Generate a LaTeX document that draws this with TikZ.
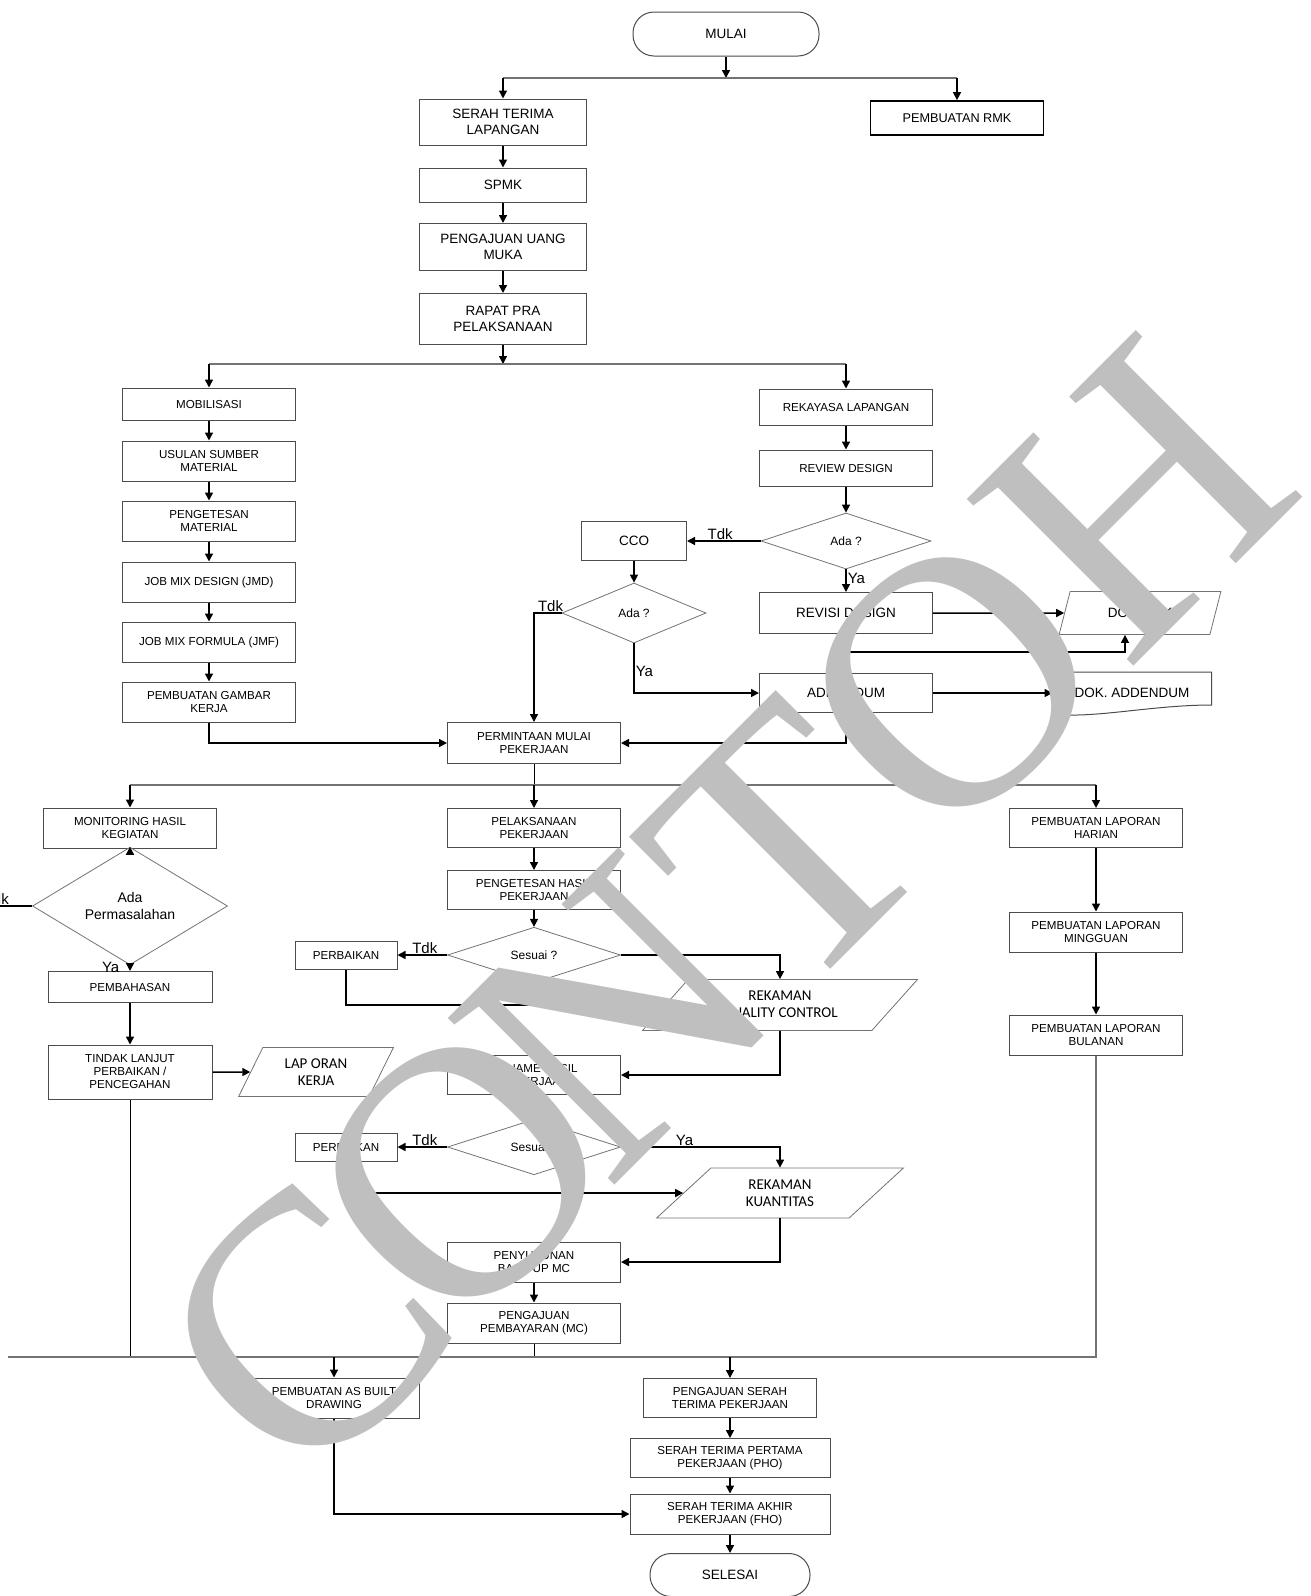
\documentclass[tikz,border=0pt]{standalone}
\usepackage{fontspec}
\setmainfont{Liberation Sans}
\newfontfamily\calfont{Carlito}
\newfontfamily\wmfont{Liberation Serif}
\usetikzlibrary{arrows.meta,shapes.geometric,positioning}

\begin{document}
\begin{tikzpicture}[x=1pt,y=1pt,>={Triangle[length=8pt,width=8pt]}]
	\tikzstyle{B} = [draw=black!70,line width=1pt,fill=white,minimum width=173pt,minimum height=40pt,align=center,inner sep=2pt,font=\fontsize{11.6}{13}\selectfont]
	\tikzstyle{Bl} = [B,font=\fontsize{13.5}{16}\selectfont]
	\tikzstyle{T} = [B,rounded corners=21pt,font=\fontsize{13.5}{16}\selectfont]
	\tikzstyle{D} = [draw=black!55,line width=0.8pt,fill=white,diamond,inner sep=0pt,align=center,font=\fontsize{12}{14}\selectfont]
	\tikzstyle{P} = [draw=black!55,line width=0.8pt,fill=white,trapezium,trapezium stretches=true,trapezium left angle=45,trapezium right angle=135,align=center,inner sep=0pt,font=\calfont\fontsize{15}{17}\selectfont]
	\tikzstyle{lbl} = [inner sep=1pt,font=\fontsize{15}{17}\selectfont]
	\tikzstyle{conn} = [line width=1.5pt]
	\tikzstyle{bus} = [line width=1.2pt,black!55]
	\useasboundingbox (0,0) rectangle (1310,-1596);
	\coordinate (bus1) at (0,-78);
	\coordinate (bus2) at (0,-364);
	\coordinate (bus3) at (0,-785);
	\coordinate (bus4) at (8,-1357);
	% persiapan
	\node[T,minimum width=186pt,minimum height=44pt](mulai) at (726,-34) {MULAI};
	\node[Bl,below of=mulai,node distance=88pt,xshift=-223pt,minimum width=167pt,minimum height=46pt](serah) {SERAH TERIMA\\LAPANGAN};
	\node[B,right of=serah,node distance=454pt,yshift=4pt,line width=1.8pt,draw=black,minimum height=34pt,font=\fontsize{12.7}{15}\selectfont](rmk) {PEMBUATAN RMK};
	\node[Bl,below of=serah,node distance=63pt,minimum width=167pt,minimum height=34pt](spmk) {SPMK};
	\node[Bl,below of=spmk,node distance=62pt,minimum width=167pt,minimum height=47pt](uang) {PENGAJUAN UANG\\MUKA};
	\node[Bl,below of=uang,node distance=72pt,minimum width=167pt,minimum height=51pt](rapat) {RAPAT PRA\\PELAKSANAAN};
	\draw[->,conn](mulai) -- (mulai |- bus1);
	\draw[bus](serah |- bus1) -- (rmk |- bus1);
	\draw[->,conn](serah |- bus1) -- (serah);
	\draw[->,conn](rmk |- bus1) -- (rmk);
	\draw[->,conn](serah) -- (spmk);
	\draw[->,conn](spmk) -- (uang);
	\draw[->,conn](uang) -- (rapat);
	% material
	\node[B,below of=rapat,node distance=85pt,xshift=-294pt,minimum height=32pt](mob) {MOBILISASI};
	\node[B,below of=mob,node distance=57pt](usul) {USULAN SUMBER\\MATERIAL};
	\node[B,below of=usul,node distance=60pt](tesmat) {PENGETESAN\\MATERIAL};
	\node[B,below of=tesmat,node distance=61pt](jmd) {JOB MIX DESIGN (JMD)};
	\node[B,below of=jmd,node distance=60pt](jmf) {JOB MIX FORMULA (JMF)};
	\node[B,below of=jmf,node distance=60pt](gambar) {PEMBUATAN GAMBAR\\KERJA};
	% design
	\node[B,below of=rapat,node distance=88pt,xshift=343pt,minimum height=36pt](rekayasa) {REKAYASA LAPANGAN};
	\node[B,below of=rekayasa,node distance=61pt,minimum height=36pt](review) {REVIEW DESIGN};
	\node[D,below of=review,node distance=73pt,minimum width=170pt,minimum height=56pt](ada1) {Ada ?};
	\node[Bl,left of=ada1,node distance=212pt,minimum width=105pt,minimum height=39pt](cco) {CCO};
	\node[D,below of=cco,node distance=72pt,minimum width=144pt,minimum height=60pt](ada2) {Ada ?};
	\node[Bl,below of=ada1,node distance=72pt,minimum height=41pt](revisi) {REVISI DESIGN};
	\node[P,right of=revisi,node distance=294pt,trapezium left angle=62,trapezium right angle=118,minimum width=163pt,minimum height=43pt,font=\fontsize{13.5}{16}\selectfont](dokrev) {DOK. CEK};
	\node[Bl,below of=revisi,node distance=80pt,minimum height=39pt](addendum) {ADDENDUM};
	\node[Bl,right of=addendum,node distance=286pt,draw=none,fill=none,minimum width=158pt,minimum height=41pt](dokadd) {DOK. ADDENDUM};
	\draw[black!70,line width=1pt] (dokadd.south west) -- (dokadd.north west) -- (dokadd.north east) -- ([yshift=9pt]dokadd.south east) .. controls ([xshift=-60pt,yshift=9pt]dokadd.south east) and ([xshift=40pt,yshift=-5pt]dokadd.south west) .. (dokadd.south west);
	\node[B,below of=addendum,node distance=50pt,xshift=-312pt,minimum height=41pt](minta) {PERMINTAAN MULAI\\PEKERJAAN};
	\draw[->,conn](rapat) -- (rapat |- bus2);
	\draw[bus](mob |- bus2) -- (rekayasa |- bus2);
	\draw[->,conn](mob |- bus2) -- (mob);
	\draw[->,conn](rekayasa |- bus2) -- (rekayasa);
	\draw[->,conn](mob) -- (usul);
	\draw[->,conn](usul) -- (tesmat);
	\draw[->,conn](tesmat) -- (jmd);
	\draw[->,conn](jmd) -- (jmf);
	\draw[->,conn](jmf) -- (gambar);
	\draw[->,conn](gambar) |- (minta);
	\draw[->,conn](rekayasa) -- (review);
	\draw[->,conn](review) -- (ada1);
	\draw[->,conn](ada1) -- (cco) node[lbl,pos=0.55,above](t1){Tdk};
	\draw[->,conn](ada1) -- (revisi) node[lbl,pos=0.4,right](y1){Ya};
	\draw[->,conn](cco) -- (ada2);
	\draw[->,conn](ada2.west) -| (minta.north) node[lbl,pos=0.2,above](t2){Tdk};
	\draw[->,conn](ada2.south) |- (addendum) node[lbl,pos=0.28,right](y2){Ya};
	\draw[->,conn](revisi) -- (dokrev);
	\draw[->,conn](revisi.south) -- ++(0,-18) -| ([xshift=-15pt]dokrev.south);
	\draw[->,conn](addendum) -- (dokadd.west);
	\draw[->,conn](addendum) |- (minta);
	% pelaksanaan
	\node[B,below of=minta,node distance=85pt,minimum height=39pt](laksana) {PELAKSANAAN\\PEKERJAAN};
	\node[B,below of=laksana,node distance=62pt,minimum height=39pt](teshasil) {PENGETESAN HASIL\\PEKERJAAN};
	\node[D,below of=teshasil,node distance=65pt,minimum width=173pt,minimum height=49pt](ada3) {Sesuai ?};
	\node[B,left of=ada3,node distance=188pt,minimum width=102pt,minimum height=28pt](baik1) {PERBAIKAN};
	\node[P,below of=ada3,node distance=50pt,xshift=246pt,minimum width=275pt,minimum height=51pt](rekqc) {REKAMAN\\QUALITY CONTROL};
	\node[B,below of=ada3,node distance=120pt,minimum height=39pt](opname) {OPNAME HASIL\\PEKERJAAN};
	\node[D,below of=opname,node distance=72pt,minimum width=173pt,minimum height=50pt](ada4) {Sesuai ?};
	\node[B,left of=ada4,node distance=188pt,minimum width=102pt,minimum height=28pt](baik2) {PERBAIKAN};
	\node[P,below of=ada4,node distance=46pt,xshift=246pt,minimum width=247pt,minimum height=50pt](rekkuan) {REKAMAN\\KUANTITAS};
	\node[B,below of=ada4,node distance=115pt,minimum height=40pt](susun) {PENYUSUNAN\\BACK UP MC};
	\node[B,below of=susun,node distance=61pt,minimum height=40pt](ajumc) {PENGAJUAN\\PEMBAYARAN (MC)};
	% monitoring
	\node[B,left of=laksana,node distance=404pt,minimum height=40pt](monitor) {MONITORING HASIL\\KEGIATAN};
	\node[D,below of=monitor,node distance=78pt,minimum width=195pt,minimum height=71pt,font=\fontsize{14}{17}\selectfont](adaperm) {Ada\\Permasalahan};
	\node[B,below of=adaperm,node distance=81pt,minimum width=164pt,minimum height=31pt](bahas) {PEMBAHASAN};
	\node[B,below of=bahas,node distance=85pt,minimum width=164pt,minimum height=54pt](tindak) {TINDAK LANJUT\\PERBAIKAN /\\PENCEGAHAN};
	\node[P,right of=tindak,node distance=186pt,trapezium left angle=62,trapezium right angle=118,minimum width=156pt,minimum height=49pt](lapkerja) {LAP ORAN\\KERJA};
	% laporan
	\node[B,right of=laksana,node distance=562pt,minimum height=39pt](harian) {PEMBUATAN LAPORAN\\HARIAN};
	\node[B,below of=harian,node distance=104pt](mingguan) {PEMBUATAN LAPORAN\\MINGGUAN};
	\node[B,below of=mingguan,node distance=103pt](bulanan) {PEMBUATAN LAPORAN\\BULANAN};
	\draw[conn,line width=1pt](minta) -- (minta |- bus3);
	\draw[bus](monitor |- bus3) -- (harian |- bus3);
	\draw[->,conn](monitor |- bus3) -- (monitor);
	\draw[->,conn](laksana |- bus3) -- (laksana);
	\draw[->,conn](harian |- bus3) -- (harian);
	\draw[->,conn](laksana) -- (teshasil);
	\draw[->,conn](teshasil) -- (ada3);
	\draw[->,conn](ada3) -- (baik1) node[lbl,pos=0.45,above](t3){Tdk};
	\draw[->,conn](ada3.east) -| (rekqc.north) node[lbl,pos=0.14,above](y3){Ya};
	\draw[->,conn](baik1) |- (rekqc);
	\draw[->,conn](rekqc) |- (opname);
	\draw[->,conn](opname) -- (ada4);
	\draw[->,conn](ada4) -- (baik2) node[lbl,pos=0.45,above](t4){Tdk};
	\draw[->,conn](ada4.east) -| (rekkuan.north) node[lbl,pos=0.2,above](y4){Ya};
	\draw[->,conn](baik2) |- (rekkuan);
	\draw[->,conn](rekkuan) |- (susun);
	\draw[->,conn](susun) -- (ajumc);
	\draw[->,conn](monitor) -- (adaperm);
	\draw[conn](adaperm.west) -- ++(-45,0);
	\node[lbl,anchor=south east](t5) at (10,-906) {Tdk};
	\draw[->,conn](adaperm) -- (bahas) node[lbl,pos=0.3,left,xshift=-9pt](y5){Ya};
	\draw[->,conn](bahas) -- (tindak);
	\draw[->,conn](tindak) -- (lapkerja);
	\draw[->,conn](harian) -- (mingguan);
	\draw[->,conn](mingguan) -- (bulanan);
	% penyerahan
	\node[B,below of=ajumc,node distance=75pt,xshift=-200pt,minimum width=170pt](asbuilt) {PEMBUATAN AS BUILT\\DRAWING};
	\node[B,below of=ajumc,node distance=75pt,xshift=196pt,minimum height=39pt](ajuserah) {PENGAJUAN SERAH\\TERIMA PEKERJAAN};
	\node[B,below of=ajuserah,node distance=60pt,minimum width=200pt,minimum height=39pt](pho) {SERAH TERIMA PERTAMA\\PEKERJAAN (PHO)};
	\node[B,below of=pho,node distance=56pt,minimum width=200pt](fho) {SERAH TERIMA AKHIR\\PEKERJAAN (FHO)};
	\node[T,below of=fho,node distance=61pt,minimum width=160pt,minimum height=43pt](selesai) {SELESAI};
	\draw[conn,line width=1pt](ajumc) -- (ajumc |- bus4);
	\draw[conn,line width=1pt](tindak) -- (tindak |- bus4);
	\draw[bus](bulanan) |- (bus4);
	\draw[->,conn](asbuilt |- bus4) -- (asbuilt);
	\draw[->,conn](ajuserah |- bus4) -- (ajuserah);
	\draw[->,conn](asbuilt) |- (fho);
	\draw[->,conn](ajuserah) -- (pho);
	\draw[->,conn](pho) -- (fho);
	\draw[->,conn](fho) -- (selesai);
	% watermark
	\node[black!25,inner sep=0pt,rotate=45,font=\wmfont\fontsize{360}{360}\selectfont](wm) at (723,-911) {C\kern-28pt O\kern-40pt NTOH};
\end{tikzpicture}
\end{document}
